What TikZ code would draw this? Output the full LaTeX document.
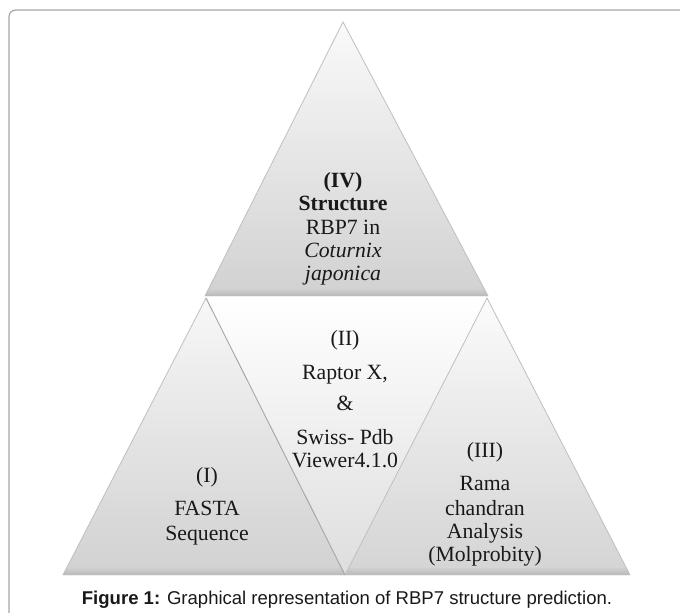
\documentclass[tikz,border=0pt]{standalone}
\usepackage{fontspec}
\setmainfont{Liberation Serif}
\newfontfamily\capfont{Liberation Sans}
\usetikzlibrary{calc}
\begin{document}
\begin{tikzpicture}[x=0.75pt,y=-0.75pt,
  lbl/.style={align=center, font=\fontsize{16.3}{17.5}\selectfont, inner sep=0pt, text=black!90},
  edgeline/.style={draw=gray!50, line width=0.6pt},
  darkedge/.style={draw=gray!70, line width=0.7pt},
  band/.style={top color=gray!38, bottom color=gray!55}]
\useasboundingbox (0,0) rectangle (680,612);
\fill[white] (0,0) rectangle (680,612);
\begin{scope}
\clip (0,0) rectangle (680,612);
\draw[gray!70, line width=0.9pt, rounded corners=5] (9,10) rectangle (700,640);
\end{scope}
% vertices
\coordinate (A) at (343,22);
\coordinate (B) at (205,296);
\coordinate (C) at (488,296);
\coordinate (D) at (206,298);
\coordinate (E) at (487,298);
\coordinate (F) at (63,575);
\coordinate (G) at (345,575);
\coordinate (H) at (630,575);
% top triangle
\shade[top color=gray!4, bottom color=gray!36] (A)--(B)--(C)--cycle;
\shade[band] ($(A)!0.975!(B)$) -- (B) -- (C) -- ($(A)!0.975!(C)$) -- cycle;
\draw[edgeline] (B)--(A)--(C);
% lower triangles
\shade[top color=gray!6, bottom color=gray!36] (D)--(F)--(G)--cycle;
\shade[top color=gray!3, bottom color=gray!34] (E)--(G)--(H)--cycle;
\shade[top color=white, bottom color=gray!26] (D)--(E)--(G)--cycle;
\shade[band] ($(D)!0.975!(F)$) -- (F) -- (G) -- ($(D)!0.975!(G)$) -- cycle;
\shade[band] ($(E)!0.975!(G)$) -- (G) -- (H) -- ($(E)!0.975!(H)$) -- cycle;
\draw[edgeline] (D)--(F);
\draw[edgeline] (E)--(H);
\draw[darkedge] (D)--(G);
\draw[edgeline] (E)--(G);
% texts
\node[lbl] (t4) at (343,229) {\textbf{(IV)}\\\textbf{Structure}\\RBP7 in\\\textit{Coturnix}\\\textit{japonica}};
\node[lbl] (t2) at (345,399) {(II)\\[8pt]Raptor X,\\[5.8pt]\&\\[8pt]Swiss- Pdb\\Viewer4.1.0};
\node[lbl] (t1) at (207,506) {(I)\\[7.3pt]FASTA\\[1pt]Sequence};
\node[lbl] (t3) at (485,504.5) {(III)\\[7.3pt]Rama\\[1pt]chandran\\Analysis\\(Molprobity)};
\node[font=\capfont\fontsize{13.9}{16}\selectfont, inner sep=0pt, text=black!90] (cap) at (347,600) {\textbf{Figure 1:} Graphical representation of RBP7 structure prediction.};
\end{tikzpicture}
\end{document}
